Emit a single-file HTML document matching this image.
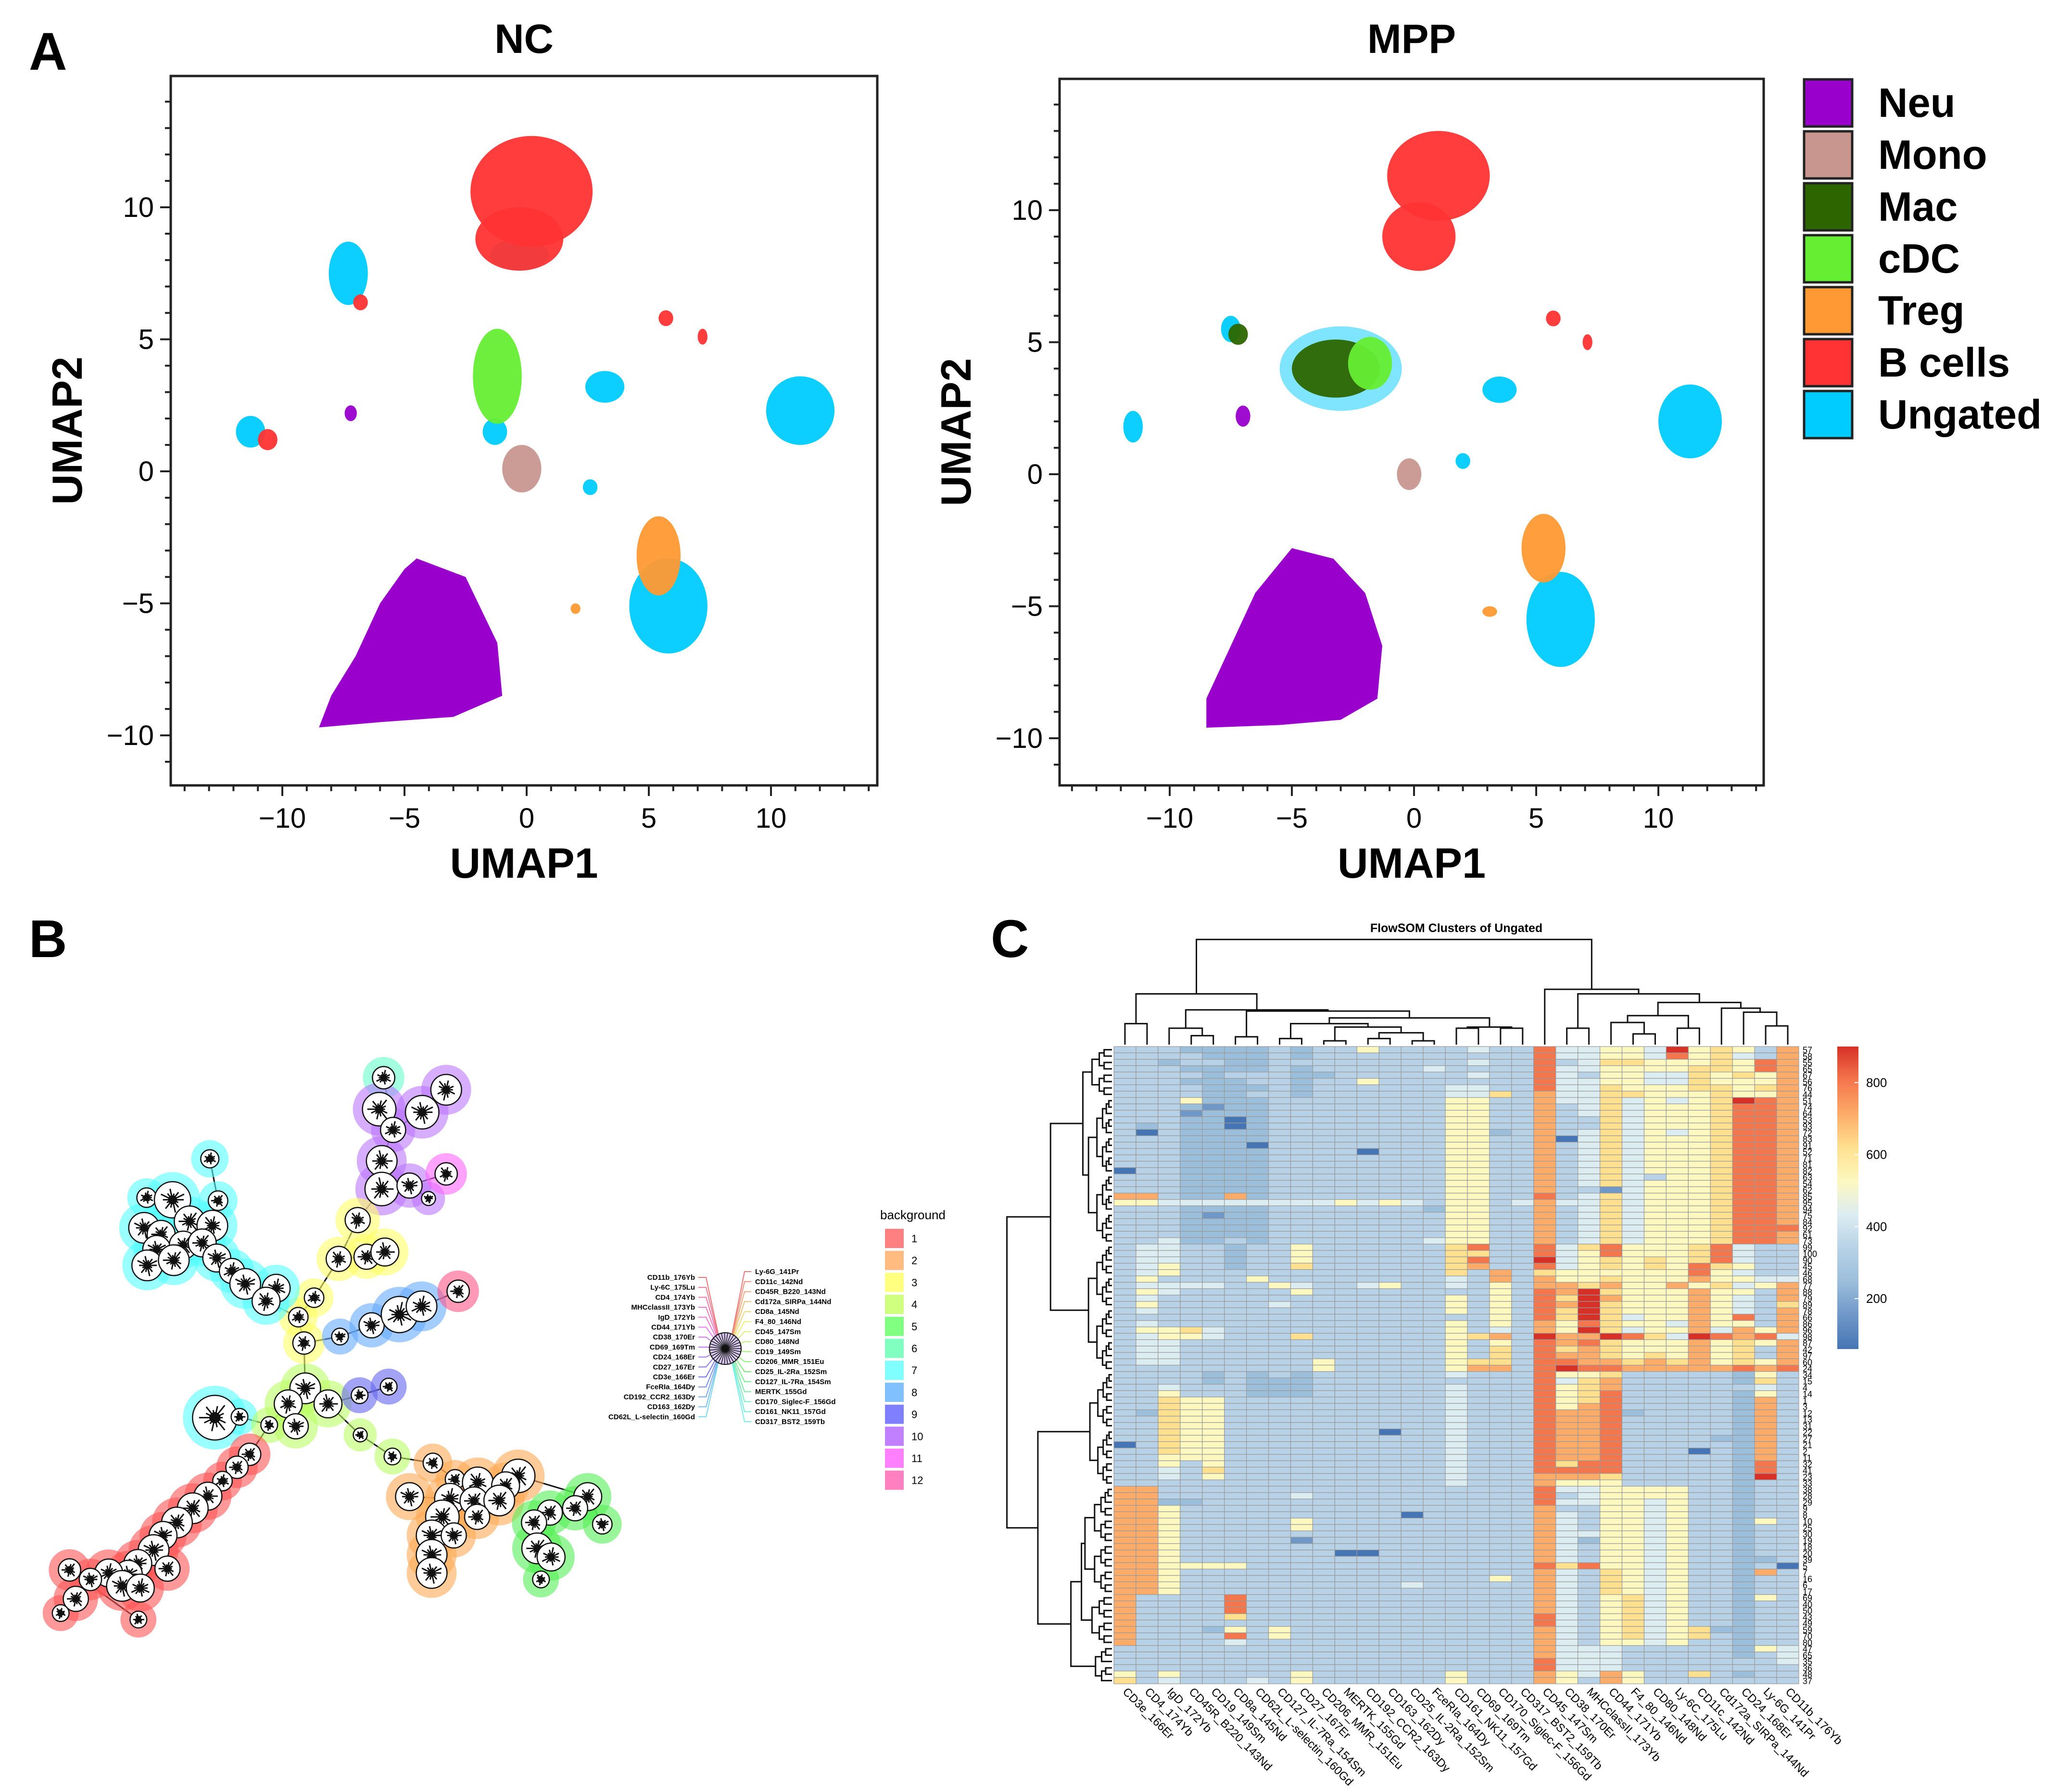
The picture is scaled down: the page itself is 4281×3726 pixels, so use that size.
<!DOCTYPE html>
<html><head><meta charset="utf-8"><style>
html,body{margin:0;padding:0;background:#fff}
svg{display:block}
text{font-family:"Liberation Sans",Arial,sans-serif}
</style></head><body>
<svg id="fig" width="4281" height="3726" viewBox="0 0 4281 3726" xmlns="http://www.w3.org/2000/svg">
<rect width="4281" height="3726" fill="#fff"/>
<text x="60" y="145" font-size="110" font-weight="bold">A</text>
<text x="60" y="1990" font-size="110" font-weight="bold">B</text>
<text x="2060" y="1990" font-size="110" font-weight="bold">C</text>
<g id="pa"></g><g id="pb"></g><g id="pc"></g>
</svg>
<script>
const NS="http://www.w3.org/2000/svg";
function mk(tag,attrs,parent,txt){const e=document.createElementNS(NS,tag);for(const k in attrs)e.setAttribute(k,attrs[k]);if(txt!==undefined)e.textContent=txt;parent.appendChild(e);return e;}

/* ---------------- Panel A data ---------------- */
const cellTypes=["Neu","Mono","Mac","cDC","Treg","B cells","Ungated"];
const cellColors=["#9900cc","#c8968f","#2d6600","#66ee33","#ff9933","#ff3333","#00ccff"];
const xTicks=[-10,-5,0,5,10];
const yTicks=[-10,-5,0,5,10];
// clusters: [typeIndex, x, y, rx, ry]
const ncClusters=[[6,-7.3,7.5,0.8,1.2],[6,-11.3,1.5,0.6,0.6],[6,3.2,3.2,0.8,0.6],[6,11.2,2.3,1.4,1.3],[6,5.8,-5.1,1.6,1.8],[6,-1.3,1.5,0.5,0.5],[6,2.6,-0.6,0.3,0.3],[6,-0.3,8.2,1.2,0.6],
 [4,5.4,-3.2,0.9,1.5],[4,2.0,-5.2,0.2,0.2],[3,-1.2,3.6,1.0,1.8],[1,-0.2,0.1,0.8,0.9],
 [5,0.2,10.6,2.5,2.1],[5,-0.3,8.8,1.8,1.2],[5,-10.6,1.2,0.4,0.4],[5,5.7,5.8,0.3,0.3],[5,7.2,5.1,0.2,0.3],[5,-6.8,6.4,0.3,0.3],[0,-7.2,2.2,0.25,0.3]];
const ncNeu=[[-4.5,-3.3],[-2.5,-4],[-1.2,-6.5],[-1,-8.5],[-3,-9.3],[-6,-9.5],[-8.5,-9.7],[-8,-8.5],[-7,-7],[-6,-5],[-5,-3.7]];
const mppClusters=[[6,-11.5,1.8,0.4,0.6],[6,11.3,2.0,1.3,1.4],[6,3.5,3.2,0.7,0.5],[6,6.0,-5.5,1.4,1.8],[6,-3,4,2.5,1.6],[6,-7.5,5.5,0.4,0.5],[6,2.0,0.5,0.3,0.3],
 [2,-3.2,4.0,1.8,1.1],[2,-7.2,5.3,0.4,0.4],[3,-1.8,4.2,0.9,1.0],[0,-7.0,2.2,0.3,0.4],[1,-0.2,0.0,0.5,0.6],
 [5,1.0,11.3,2.1,1.7],[5,0.2,9.0,1.5,1.3],[5,5.7,5.9,0.3,0.3],[5,7.1,5.0,0.2,0.3],[4,5.3,-2.8,0.9,1.3],[4,3.1,-5.2,0.3,0.2]];
const mppNeu=[[-5,-2.8],[-3.3,-3.2],[-2,-4.5],[-1.3,-6.5],[-1.5,-8.5],[-3,-9.3],[-5.5,-9.5],[-8.5,-9.6],[-8.5,-8.5],[-7.5,-6.5],[-6.5,-4.5]];

function umapPlot(id,title,fx,x0,ux,fy,y0,uy,clusters,neu){
  const g=mk("g",{},document.getElementById("pa"));
  
  
  const L=fx[0],R=fx[1],T=fy[0],B=fy[1];
  const sx=v=>x0+v*ux, sy=v=>y0-v*uy;
  const t=mk("text",{x:(L+R)/2,y:110,"font-size":85,"font-weight":"bold","text-anchor":"middle"},g,title);
  
  const poly=mk("polygon",{points:neu.map(p=>sx(p[0])+","+sy(p[1])).join(" "),fill:cellColors[0]},g);
  
  clusters.forEach((c,i)=>{
    const e=mk("ellipse",{cx:sx(c[1]),cy:sy(c[2]),rx:c[3]*ux,ry:c[4]*uy,fill:cellColors[c[0]],"fill-opacity":c[0]===6&&c[3]>2?0.5:0.95},g);
    
    
  });
  const fr=mk("rect",{x:L,y:T,width:R-L,height:B-T,fill:"none",stroke:"#222","stroke-width":5},g);
  
  for(let v=-14;v<=14;v++){const X=sx(v);if(X<L||X>R)continue;const maj=v%5===0;
    mk("line",{x1:X,y1:B,x2:X,y2:B+(maj?22:12),stroke:"#222","stroke-width":4},g);}
  for(let v=-11;v<=14;v++){const Y=sy(v);if(Y<T||Y>B)continue;const maj=v%5===0;
    mk("line",{x1:L,y1:Y,x2:L-(maj?22:12),y2:Y,stroke:"#222","stroke-width":4},g);}
  xTicks.forEach(v=>{const e=mk("text",{x:sx(v),y:B+88,"font-size":58,"text-anchor":"middle"},g,v<0?"\u2212"+(-v):String(v));
    });
  yTicks.forEach(v=>{const e=mk("text",{x:L-35,y:sy(v)+20,"font-size":58,"text-anchor":"end"},g,v<0?"\u2212"+(-v):String(v));
    });
  const xt=mk("text",{x:(L+R)/2,y:1825,"font-size":88,"font-weight":"bold","text-anchor":"middle"},g,"UMAP1");
  
  const yx=L-185;
  const yt=mk("text",{x:yx,y:(T+B)/2,"font-size":88,"font-weight":"bold","text-anchor":"middle",transform:`rotate(-90 ${yx} ${(T+B)/2})`},g,"UMAP2");
  
}
umapPlot("nc","NC",[355,1824],1095,50.8,[158,1633],980,54.9,ncClusters,ncNeu);
umapPlot("mpp","MPP",[2203,3667],2940,50.8,[164,1633],986,54.9,mppClusters,mppNeu);
(function(){const g=mk("g",{},document.getElementById("pa"));
 
 cellTypes.forEach((n,i)=>{const y=165+i*108;
  const r=mk("rect",{x:3751,y:y,width:100,height:98,fill:cellColors[i],stroke:"#222","stroke-width":5},g);
  
  const t=mk("text",{x:3905,y:y+78,"font-size":85,"font-weight":"bold"},g,n);
  });})();

/* ---------------- Panel B ---------------- */
const bgColors=["#ff8080","#ffbb80","#ffff80","#d0ff80","#80ff80","#80ffc0","#80ffff","#80c0ff","#8080ff","#c080ff","#ff80ff","#ff80c0"];
const haloColors=["#f55","#fa5","#ff6","#bf6","#5e5","#6fc","#5ff","#6af","#66e","#b7f","#f6f","#f58"];
const treeNodes=[[607,157,6,16],[600,230,10,24],[668,237,10,24],[706,185,10,22],[622,278,10,18],[604,350,10,22],[604,415,10,24],[648,407,10,18],[678,437,10,10],[706,380,11,16],
[566,487,3,18],[536,577,3,18],[580,572,3,18],[609,561,3,20],[497,667,3,14],[472,712,3,14],[481,772,3,16],
[538,757,8,12],[588,731,8,18],[632,706,8,26],[667,687,8,22],[725,652,12,16],
[332,345,7,13],[232,435,7,14],[345,442,7,14],[273,440,7,26],[228,505,7,22],[255,520,7,20],[300,490,7,22],[336,500,7,22],[248,555,7,20],[290,545,7,20],[320,540,7,20],[233,592,7,22],[275,580,7,22],[343,575,7,20],[367,605,7,18],[388,635,7,22],[437,645,7,20],[421,675,7,20],[340,945,7,32],[379,943,7,12],
[483,877,4,22],[456,913,4,20],[519,913,4,20],[426,962,4,12],[468,965,4,18],[570,985,4,10],[621,1035,4,12],[569,893,9,12],[615,873,9,12],
[395,1030,1,16],[375,1060,1,16],[352,1092,1,14],[329,1127,1,20],[305,1155,1,22],[280,1188,1,22],[258,1218,1,20],[243,1252,1,22],[218,1283,1,20],[265,1295,1,18],[203,1308,1,20],[172,1305,1,20],[143,1320,1,16],[110,1298,1,16],[193,1335,1,22],[222,1340,1,20],[120,1365,1,18],[96,1398,1,12],[219,1413,1,12],
[685,1050,2,14],[720,1088,2,14],[756,1095,2,22],[820,1080,2,24],[800,1103,2,20],[648,1128,2,20],[712,1133,2,22],[750,1138,2,20],[790,1137,2,22],[700,1175,2,24],[755,1175,2,18],[683,1218,2,22],[718,1218,2,18],[683,1263,2,22],[683,1305,2,22],
[930,1128,5,20],[910,1155,5,18],[870,1165,5,18],[845,1188,5,18],[953,1192,5,14],[850,1248,5,22],[872,1268,5,20],[856,1320,5,12]];
const treeEdges=[[0,4],[1,4],[2,4],[3,2],[4,5],[5,6],[6,7],[7,8],[7,9],[6,10],[10,11],[11,12],[12,13],[11,14],[14,15],[15,16],[16,17],[17,18],[18,19],[19,20],[20,21],[15,39],[39,38],[38,37],[37,36],[36,35],[35,34],[22,24],[23,25],[24,29],[16,42],[42,43],[42,44],[43,45],[45,41],[41,40],[43,46],[44,47],[47,48],[44,49],[49,50],[45,51],[51,52],[52,53],[53,54],[54,55],[55,56],[56,57],[57,58],[58,59],[59,61],[61,62],[62,63],[63,67],[67,68],[60,58],[64,65],[65,66],[64,69],[48,70],[70,71],[71,72],[72,73],[73,74],[74,78],[78,79],[79,82],[82,83],[83,84],[75,76],[76,77],[77,80],[73,85],[85,86],[86,87],[87,88],[85,89],[88,90],[90,91],[91,92]];
(function(){const g=document.getElementById("pb");
 const X=x=>x*1.314, Y=y=>2100+y*0.897;
 const eg=mk("g",{stroke:"#111","stroke-width":3},g);
 
 treeEdges.forEach(e=>{const a=treeNodes[e[0]],b=treeNodes[e[1]];mk("line",{x1:X(a[0]),y1:Y(a[1]),x2:X(b[0]),y2:Y(b[1])},eg);});
 treeNodes.forEach(n=>{const r=n[3]*1.45;
  const h=mk("circle",{cx:X(n[0]),cy:Y(n[1]),r:r+20,fill:haloColors[n[2]-1],"fill-opacity":0.6},g);
  });
 treeNodes.forEach(n=>{const r=n[3]*1.45,cx=X(n[0]),cy=Y(n[1]);
  const c=mk("circle",{cx:cx,cy:cy,r:r,fill:"#fff",stroke:"#111","stroke-width":2.5},g);
  
  for(let k=0;k<14;k++){const a=k/14*2*Math.PI,l=r*(0.35+0.45*((k*7+n[0])%5)/5);
   mk("line",{x1:cx,y1:cy,x2:cx+Math.cos(a)*l,y2:cy+Math.sin(a)*l,stroke:"#111","stroke-width":3},g);}
  mk("circle",{cx:cx,cy:cy,r:r*0.25,fill:"#111"},g);});
 const leftM=["CD11b_176Yb","Ly-6C_175Lu","CD4_174Yb","MHCclassII_173Yb","IgD_172Yb","CD44_171Yb","CD38_170Er","CD69_169Tm","CD24_168Er","CD27_167Er","CD3e_166Er","FceRIa_164Dy","CD192_CCR2_163Dy","CD163_162Dy","CD62L_L-selectin_160Gd"];
 const rightM=["Ly-6G_141Pr","CD11c_142Nd","CD45R_B220_143Nd","Cd172a_SIRPa_144Nd","CD8a_145Nd","F4_80_146Nd","CD45_147Sm","CD80_148Nd","CD19_149Sm","CD206_MMR_151Eu","CD25_IL-2Ra_152Sm","CD127_IL-7Ra_154Sm","MERTK_155Gd","CD170_Siglec-F_156Gd","CD161_NK11_157Gd","CD317_BST2_159Tb"];
 const cx=1508,cy=2804,sg=mk("g",{},g);
 
 const hue=i=>`hsl(${(i*12)%360},80%,70%)`;
 leftM.forEach((m,i)=>{const y=2661+i*20.7;
  mk("polyline",{points:`1452,${y-5} 1468,${y-5} ${cx-8},${cy}`,fill:"none",stroke:hue(30-i),"stroke-width":2},sg);
  const t=mk("text",{x:1445,y:y,"font-size":15,"font-weight":"bold","text-anchor":"end"},sg,m);
  });
 rightM.forEach((m,i)=>{const y=2649+i*20.8;
  mk("polyline",{points:`1562,${y-5} 1548,${y-5} ${cx+8},${cy}`,fill:"none",stroke:hue(i),"stroke-width":2},sg);
  const t=mk("text",{x:1570,y:y,"font-size":15,"font-weight":"bold"},sg,m);
  });
 mk("circle",{cx:cx,cy:cy,r:33,fill:"#d8c8f0",stroke:"#111","stroke-width":2},sg);
 for(let k=0;k<31;k++){const a=k/31*2*Math.PI;mk("line",{x1:cx,y1:cy,x2:cx+33*Math.cos(a),y2:cy+33*Math.sin(a),stroke:"#111","stroke-width":1.5},sg);}
 const lg=mk("g",{},g);
 mk("text",{x:1830,y:2535,"font-size":26},lg,"background");
 bgColors.forEach((c,i)=>{const y=2555+i*45.7;
  const r=mk("rect",{x:1840,y:y,width:39,height:40,fill:c},lg);
  
  mk("text",{x:1895,y:y+28,"font-size":22},lg,String(i+1));});
})();

/* ---------------- Panel C heatmap ---------------- */
const markers=["CD3e_166Er","CD4_174Yb","IgD_172Yb","CD45R_B220_143Nd","CD19_149Sm","CD8a_145Nd","CD62L_L-selectin_160Gd","CD127_IL-7Ra_154Sm","CD27_167Er","CD206_MMR_151Eu","MERTK_155Gd","CD192_CCR2_163Dy","CD163_162Dy","CD25_IL-2Ra_152Sm","FceRIa_164Dy","CD161_NK11_157Gd","CD69_169Tm","CD170_Siglec-F_156Gd","CD317_BST2_159Tb","CD45_147Sm","CD38_170Er","MHCclassII_173Yb","CD44_171Yb","F4_80_146Nd","CD80_148Nd","Ly-6C_175Lu","CD11c_142Nd","Cd172a_SIRPa_144Nd","CD24_168Er","Ly-6G_141Pr","CD11b_176Yb"];
const clusterIds=[57,58,55,65,67,56,76,44,51,74,64,53,93,72,83,91,52,71,81,82,63,54,62,85,95,94,75,84,92,61,73,99,100,90,45,46,68,77,88,79,89,78,66,86,96,98,87,42,97,60,24,34,15,4,14,1,3,12,13,31,22,27,21,2,11,32,41,23,33,38,28,29,9,8,10,25,30,19,18,20,39,5,7,16,6,17,69,40,50,43,49,59,70,80,47,65,35,36,48,37];
const heatRows=[
"3332222323 353333433 8 44554956537","3333222323 333333333 8 44554856437","3323322333 333333433 8 34665556587","3332222323 333343333 8 44555566587",
"3333233322 333333433 8 43554465657","3332223323 353333333 8 44554465557","3333222323 333334433 8 44655566567","3333223323 333334463 7 44665556557",
"3335222333 333335533 7 44645456987","3332122333 333335533 7 34645556887","3331222333 333335533 7 34645556887","3332202333 333335533 7 33645556887",
"3232202333 333335533 7 33645556887","3032222333 333335523 7 34645456887","3332222333 333335533 7 04645556887","3332220333 333335533 7 34645556887",
"3332222333 303335533 7 34645556887","3332222333 333335533 7 34645556887","3332222333 333335533 7 34645556887","0332222333 333335533 7 34645556887",
"3332222333 333335533 7 34643556887","3332222333 333335533 7 34645556887","3332222333 333335533 7 33145556887","7732272333 333335533 8 34645556887",
"5544444444 545435534 7 44645556887","3332222333 333325533 7 34645556887","3332122333 333335533 7 34645556887","3332222333 333335533 7 34645556887",
"3332222333 333335533 7 34645556888","3332222333 333335533 7 34645556887","3342232333 333345533 7 34645556887",
"3443323353 333336833 8 46855568433","3443323353 333336633 8 45855568433","3443323353 333336833 9 45656568433","3453323363 333336733 8 45656586533",
"3453333333 333336373 6 55555585433","3533335333 333334373 7 55655575544","3444433543 345334353 7 76755756457","3543333353 333333353 8 79655575537",
"3433333333 333335353 8 69755575437","3533333433 333335353 8 79655575436","3433333333 333335353 8 69655575437","3333333333 333333353 8 69645575837",
"3433333333 333335353 7 58655475537","3556433333 333335343 7 59645574757","3455433363 333335673 9 77986498784","3443333333 333335353 8 78655575657",
"3443333333 333335363 8 67655575637","3443333333 333335363 8 77656575637","3443333335 333335663 8 87767675657","3333333335 333335773 8 98877777878",
"3333232323 333334333 8 55633333253","3333232223 333333333 8 46733333263","3343332223 333334333 8 56733333343","3353332223 333334333 8 56833333253",
"3365533333 333334333 8 56833333273","3365533333 333334333 8 57833333273","3265533333 333334333 8 77823333273","3365533333 333334333 8 77833333273",
"3365533333 333334333 8 77833333273","3365533333 330334333 8 77833333273","3365533333 333334333 8 77833332273","0365533333 333334333 8 77833333273",
"3365533333 333334333 8 77833303273","3355533333 333334333 8 77833333273","3353533333 333334333 8 68833333283","3343633333 333334333 8 88833333283",
"3343533333 333334333 7 77633333293","3333333333 333334333 7 55533333233",
"7733333333 333333333 8 44555533233","7733333343 333333333 8 34555533233","7722333333 333333333 8 44554533233","7753333333 333333333 7 33554533233",
"7753333333 333033333 7 43554533233","7753333353 333333333 7 43554533253","7753333353 333333333 7 43554533233","7753333333 333333333 7 44554533233",
"7753333313 333333333 7 42554533233","7753333333 333333333 7 43554533233","7753333333 003333333 7 43554533233","7753333333 333333333 7 43554533223",
"7755553333 333333333 8 68554533230","7753333333 333333333 7 43654533273","7753333333 333333353 7 43654533233","7753333333 333433333 7 43654533233",
"7753333333 333333333 7 43654533233",
"7333383333 333333333 7 43564533253","7333383333 333333333 7 43564533233","7333383333 333333333 7 43564533233","7333363333 333333333 8 43564533233",
"7333333333 333333333 8 43564533233","7333253533 333333333 7 43564562233","7333383533 333333333 7 43564563233","7333343333 333333333 7 43554533233",
"3333333333 333333333 7 44433333254","3333333333 333333333 7 44433333234","3333333333 333333333 8 44433333334","3333333333 333333333 8 44433333333",
"5353333353 333335333 7 54753363233","6343334353 333335333 7 53753333333"];
const levelColors=["#4575b4","#6f97c8","#9bbedb","#b7d2e6","#dcedf2","#fdf8bf","#fee08f","#fcab68","#f4764c","#d73027"];
const colorbarTicks=[200,400,600,800];
(function(){const g=document.getElementById("pc");
 const HL=2316,HR=3740,HT=2176,HB=3501,nC=markers.length,nR=heatRows.length;
 const cw=(HR-HL)/nC,rh=(HB-HT)/nR;
 const colX=i=>HL+i*cw, rowY=i=>HT+i*rh;
 const t=mk("text",{x:3028,y:1938,"font-size":25,"font-weight":"bold","text-anchor":"middle"},g,"FlowSOM Clusters of Ungated");
 
 const hg=mk("g",{stroke:"#999","stroke-width":1.2},g);
 
 heatRows.forEach((row,r)=>{const s=row.replace(/ /g,"");
  for(let c=0;c<nC;c++){const lv=+s[c]||0;
   const cell=mk("rect",{x:colX(c),y:rowY(r),width:cw,height:rh,fill:levelColors[isNaN(+s[c])?3:lv]},hg);
   
   }});
 markers.forEach((m,i)=>{const x=colX(i)+cw/2-6,y=HB+18;
  const e=mk("text",{x:x,y:y,"font-size":24,transform:`rotate(45 ${x} ${y})`},g,m);
  });
 clusterIds.forEach((id,i)=>{const e=mk("text",{x:HR+8,y:rowY(i)+rh/2+7,"font-size":18},g,String(id));
  });
 const cbT=2176,cbB=2805,vmin=60,vmax=900;
 const defs=mk("defs",{},g),lgr=mk("linearGradient",{id:"cbg",x1:0,y1:1,x2:0,y2:0},defs);
 levelColors.forEach((c,i)=>mk("stop",{offset:(i/9),"stop-color":c},lgr));
 const cb=mk("rect",{x:3820,y:cbT,width:44,height:cbB-cbT,fill:"url(#cbg)"},g);
 
 colorbarTicks.forEach(v=>{const y=cbB-(v-vmin)/(vmax-vmin)*(cbB-cbT);
  mk("line",{x1:3856,y1:y,x2:3864,y2:y,stroke:"#fff","stroke-width":2},g);
  const e=mk("text",{x:3880,y:y+9,"font-size":26},g,String(v));
  });
 const dg=mk("g",{stroke:"#111","stroke-width":3,fill:"none"},g);
 
 const hy=h=>HT-(272-h)/0.84;
 function leaf(i){return {x:colX(i)+cw/2,y:HT-4};}
 function m(a,b,h){const A=typeof a==="number"?leaf(a):a,B=typeof b==="number"?leaf(b):b,y=hy(h);
  mk("polyline",{points:`${A.x},${A.y} ${A.x},${y} ${B.x},${y} ${B.x},${B.y}`},dg);return {x:(A.x+B.x)/2,y:y};}
 const n1=m(0,1,232),n3=m(2,m(3,4,253),240),n4=m(5,6,255),n5=m(7,8,258),n6=m(9,10,262),n9=m(m(11,12,258),m(13,14,262),248);
 const n10=m(n6,n9,238),n11=m(n5,n10,232),n14=m(m(15,16,240),m(17,18,240),238),n15=m(n11,n14,222),n16=m(n4,n15,210),n17=m(n3,n16,208),n18=m(n1,n17,180);
 const n19=m(20,21,240),n21=m(22,m(23,24,250),230),n23=m(n21,m(25,26,240),218),n25=m(28,m(29,30,236),212),n25b=m(27,n25,205),n26=m(n23,n25b,195),n27=m(n19,n26,180),n28=m(19,n27,172);
 m(n18,n28,85);
 const rg=mk("g",{stroke:"#111","stroke-width":3,fill:"none"},g);
 
 const rx=z=>2000+z/0.684;
 function rm(A,B,xz){const x=rx(xz);mk("polyline",{points:`${A.x},${A.y} ${x},${A.y} ${x},${B.y} ${B.x},${B.y}`},rg);return {x:x,y:(A.y+B.y)/2};}
 function sub(a,b,xz){if(a===b)return {x:HL-4,y:rowY(a)+rh/2};const mid=Math.floor((a+b)/2);
  const step=(216-xz)/3;return rm(sub(a,mid,Math.min(212,xz+step)),sub(mid+1,b,Math.min(212,xz+step)),xz);}
 const bA=sub(0,7,185),bB=sub(8,30,180),bC=sub(31,50,180),bD=sub(51,68,182),bE=sub(69,85,175),bF=sub(86,93,185),bG=sub(94,99,190);
 const AB=rm(bA,bB,172),ABC=rm(AB,bC,126),EF=rm(bE,bF,170),EFG=rm(EF,bG,155),DEFG=rm(bD,EFG,108);
 rm(ABC,DEFG,64);
})();
</script>
</body></html>
